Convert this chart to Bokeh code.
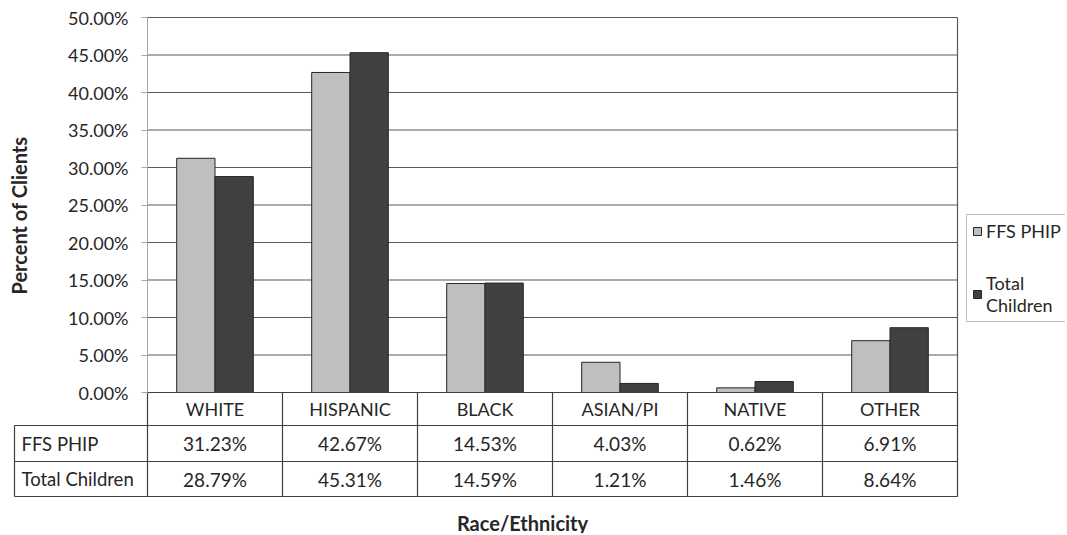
from math import pi
from bokeh.plotting import figure
from bokeh.models import (Range1d, FixedTicker, Label, Legend, LegendItem,
                          ColumnDataSource, LinearAxis)
from bokeh.core.properties import value
from bokeh.embed import file_html
from bokeh.resources import INLINE

# ---------------- data ----------------
categories = ["WHITE", "HISPANIC", "BLACK", "ASIAN/PI", "NATIVE", "OTHER"]
series_names = ["FFS PHIP", "Total Children"]
ffs_phip = [31.23, 42.67, 14.53, 4.03, 0.62, 6.91]
total_children = [28.79, 45.31, 14.59, 1.21, 1.46, 8.64]
y_ticks = [0, 5, 10, 15, 20, 25, 30, 35, 40, 45, 50]
y_tick_labels = ["0.00%", "5.00%", "10.00%", "15.00%", "20.00%", "25.00%",
                 "30.00%", "35.00%", "40.00%", "45.00%", "50.00%"]
y_title = "Percent of Clients"
x_title = "Race/Ethnicity"

# ---------------- layout helpers ----------------
W, H = 1065, 533
FONT = "Lato"
TXT = "#262626"
GRID = "#595959"
TABLE = "#404040"
LIGHT = "#bfbfbf"
DARK = "#404040"
EDGE = "#262626"

PX_CAT = 135.0      # pixels per category column
PX_PCT = 7.5        # pixels per percent
PLOT_L, PLOT_R, ZERO_Y = 147, 957, 392
TABLE_L = 14
ROW_PX = [392, 425, 461, 496]


def xd(px):
    return (px - PLOT_L) / PX_CAT - 0.5


def yd(py):
    return (ZERO_Y - py) / PX_PCT


n = len(categories)
idx = list(range(n))
bar_w = 38.3 / PX_CAT
x_lo, x_hi = -0.5, n - 0.5
y_top = max(y_ticks)
row_y = [yd(v) for v in ROW_PX]
row_mid = [(row_y[i] + row_y[i + 1]) / 2 for i in range(3)]

p = figure(width=W, height=H, x_range=Range1d(xd(0), xd(W)),
           y_range=Range1d(yd(H), yd(0)), output_backend="svg",
           toolbar_location=None, x_axis_type=None, y_axis_type=None,
           min_border=0, min_border_left=0, min_border_right=0,
           min_border_top=0, min_border_bottom=0)
p.outline_line_color = None
p.background_fill_color = "white"
p.border_fill_color = "white"
p.xgrid.visible = False
p.ygrid.visible = False

# horizontal gridlines at ticks (plot area only)
p.segment(x0=[x_lo] * len(y_ticks), x1=[x_hi] * len(y_ticks), y0=y_ticks,
          y1=y_ticks, line_color=GRID, line_width=1.2)
# right border of plot area
p.segment(x0=[x_hi], x1=[x_hi], y0=[0], y1=[y_top], line_color=GRID, line_width=1.2)

# y axis at the left edge of plot area
ax = LinearAxis(fixed_location=x_lo, ticker=FixedTicker(ticks=y_ticks))
ax.major_label_overrides = {t: l for t, l in zip(y_ticks, y_tick_labels)}
ax.bounds = (0, y_top)
ax.axis_line_color = "#a6a6a6"
ax.major_tick_line_color = "#a6a6a6"
ax.major_tick_out = 6
ax.major_tick_in = 0
ax.minor_tick_line_color = None
ax.major_label_standoff = 13
ax.major_label_text_font = FONT
ax.major_label_text_font_size = "18px"
ax.major_label_text_color = TXT
p.add_layout(ax, "left")

# bars
src = ColumnDataSource(dict(
    x1=[i - bar_w / 2 for i in idx], x2=[i + bar_w / 2 for i in idx],
    ffs=ffs_phip, tot=total_children))
r1 = p.vbar(x="x1", top="ffs", bottom=0, width=bar_w, source=src,
            fill_color=LIGHT, line_color=EDGE, line_width=1)
r2 = p.vbar(x="x2", top="tot", bottom=0, width=bar_w, source=src,
            fill_color=DARK, line_color=EDGE, line_width=1)

# ---------------- data table ----------------
tl = xd(TABLE_L)
# horizontal table lines
p.segment(x0=[x_lo, tl, tl, tl], x1=[x_hi] * 4, y0=row_y, y1=row_y,
          line_color=TABLE, line_width=1.2)
# vertical table lines
col_edges = [i - 0.5 for i in range(n + 1)]
p.segment(x0=col_edges + [tl], x1=col_edges + [tl],
          y0=[0] * (n + 1) + [row_y[1]], y1=[row_y[3]] * (n + 2),
          line_color=TABLE, line_width=1.2)

txt_kw = dict(text_align="center", text_baseline="middle",
              text_font=value(FONT), text_font_size="18px", text_color=TXT)
p.text(x=idx, y=[row_mid[0]] * n, text=categories, **txt_kw)
p.text(x=idx, y=[row_mid[1]] * n, text=[f"{v:.2f}%" for v in ffs_phip],
       **dict(txt_kw, text_font_size="19px"))
p.text(x=idx, y=[row_mid[2]] * n, text=[f"{v:.2f}%" for v in total_children],
       **dict(txt_kw, text_font_size="19px"))
p.text(x=[xd(21)] * 2, y=row_mid[1:], text=series_names, text_align="left",
       text_baseline="middle", text_font=value(FONT), text_font_size="18.5px",
       text_color=TXT)

# axis titles
p.add_layout(Label(x=xd(18), y=yd(215), text=y_title, angle=pi / 2,
                   text_align="center", text_baseline="middle", text_font=FONT,
                   text_font_size="20px", text_font_style="bold", text_color=TXT))
p.add_layout(Label(x=xd(522), y=yd(522), text=x_title,
                   text_align="center", text_baseline="middle", text_font=FONT,
                   text_font_size="20px", text_font_style="bold", text_color=TXT))

# legend
legend = Legend(items=[LegendItem(label=series_names[0], renderers=[r1]),
                       LegendItem(label="Total\nChildren", renderers=[r2])],
                location=(966, H - 322),
                border_line_color="#7f7f7f", border_line_width=1,
                background_fill_color="white", background_fill_alpha=1,
                padding=5, margin=0, spacing=30, glyph_width=10, glyph_height=10,
                label_standoff=4, label_text_font=FONT,
                label_text_font_size="18px", label_text_color=TXT)
p.add_layout(legend, "center")

open("out.html", "w").write(file_html(p, INLINE))
